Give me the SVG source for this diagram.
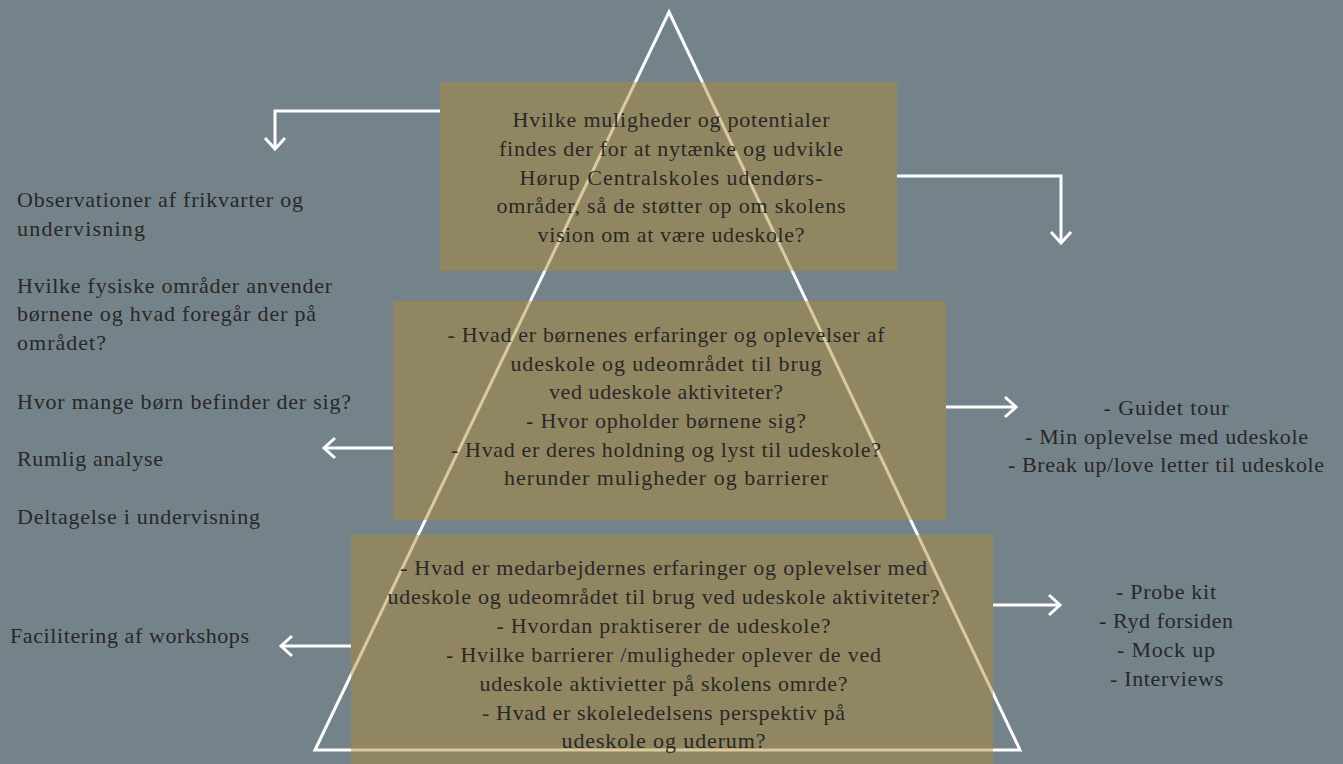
<svg xmlns="http://www.w3.org/2000/svg" width="1343" height="764" viewBox="0 0 1343 764">
<style>
.bg{fill:#74838a}
.box{fill:rgb(176,141,54);fill-opacity:0.47}
.tri{fill:none;stroke:#ffffff;stroke-width:3;stroke-linejoin:miter}
.conn{fill:none;stroke:#ffffff;stroke-width:3}
.t{font-family:"Liberation Serif","Times New Roman",serif;font-size:22px;fill:#2a2727}
.c{text-anchor:middle}
</style>
<defs>
<marker id="ah" viewBox="-15 -15 30 30" markerWidth="30" markerHeight="30" refX="0" refY="0" orient="auto" markerUnits="userSpaceOnUse" overflow="visible">
<path d="M-11,-10 L0,0 L-11,10" fill="none" stroke="#ffffff" stroke-width="3"/>
</marker>
</defs>
<rect class="bg" x="0" y="0" width="1343" height="764"/>
<g id="pyramid">
<polygon class="tri" points="669,12 1020,750 315,750"/>
</g>
<g id="connectors">
<polyline class="conn" points="440,111 275,111 275,149" marker-end="url(#ah)"/>
<polyline class="conn" points="897,176 1061,176 1061,243" marker-end="url(#ah)"/>
<line class="conn" x1="393" y1="448" x2="324" y2="448" marker-end="url(#ah)"/>
<line class="conn" x1="946" y1="407" x2="1016" y2="407" marker-end="url(#ah)"/>
<line class="conn" x1="351" y1="646" x2="281" y2="646" marker-end="url(#ah)"/>
<line class="conn" x1="993" y1="605" x2="1060" y2="605" marker-end="url(#ah)"/>
</g>
<g id="top-box">
<rect class="box" x="440" y="82" width="457" height="189"/>
<text class="t c" x="671" y="127" textLength="317">Hvilke muligheder og potentialer</text>
<text class="t c" x="671" y="155.8" textLength="344">findes der for at nytænke og udvikle</text>
<text class="t c" x="671" y="184.6" textLength="303">Hørup Centralskoles udendørs-</text>
<text class="t c" x="671" y="213.4" textLength="349">områder, så de støtter op om skolens</text>
<text class="t c" x="671" y="242.2" textLength="267">vision om at være udeskole?</text>
</g>
<g id="middle-box">
<rect class="box" x="393" y="301" width="553" height="219"/>
<text class="t c" x="666" y="342" textLength="437">- Hvad er børnenes erfaringer og oplevelser af</text>
<text class="t c" x="666" y="370.7" textLength="311">udeskole og udeområdet til brug</text>
<text class="t c" x="666" y="399.4" textLength="234">ved udeskole aktiviteter?</text>
<text class="t c" x="666" y="428" textLength="280">- Hvor opholder børnene sig?</text>
<text class="t c" x="666" y="456.7" textLength="430">- Hvad er deres holdning og lyst til udeskole?</text>
<text class="t c" x="666" y="485.4" textLength="324">herunder muligheder og barrierer</text>
</g>
<g id="bottom-box">
<rect class="box" x="351" y="535" width="642" height="229"/>
<text class="t c" x="663.5" y="575" textLength="527">- Hvad er medarbejdernes erfaringer og oplevelser med</text>
<text class="t c" x="663.5" y="604" textLength="552">udeskole og udeområdet til brug ved udeskole aktiviteter?</text>
<text class="t c" x="663.5" y="633" textLength="334">- Hvordan praktiserer de udeskole?</text>
<text class="t c" x="663.5" y="662" textLength="435">- Hvilke barrierer /muligheder oplever de ved</text>
<text class="t c" x="663.5" y="691" textLength="368">udeskole aktivietter på skolens omrde?</text>
<text class="t c" x="663.5" y="719.5" textLength="363">- Hvad er skoleledelsens perspektiv på</text>
<text class="t c" x="663.5" y="748.3" textLength="204">udeskole og uderum?</text>
</g>
<g id="left-observations">
<text class="t" x="17" y="206.5" textLength="286">Observationer af frikvarter og</text>
<text class="t" x="17" y="235.5" textLength="128">undervisning</text>
<text class="t" x="17" y="292.5" textLength="315">Hvilke fysiske områder anvender</text>
<text class="t" x="17" y="321" textLength="299">børnene og hvad foregår der på</text>
<text class="t" x="17" y="350" textLength="89">området?</text>
<text class="t" x="17" y="408.5" textLength="334">Hvor mange børn befinder der sig?</text>
<text class="t" x="17" y="465.5" textLength="146">Rumlig analyse</text>
<text class="t" x="17" y="523.5" textLength="243">Deltagelse i undervisning</text>
</g>
<g id="left-workshops">
<text class="t" x="10" y="642.5" textLength="239">Facilitering af workshops</text>
</g>
<g id="right-children-methods">
<text class="t c" x="1166" y="415" textLength="125">- Guidet tour</text>
<text class="t c" x="1166.5" y="443.5" textLength="283">- Min oplevelse med udeskole</text>
<text class="t c" x="1166" y="472" textLength="316">- Break up/love letter til udeskole</text>
</g>
<g id="right-staff-methods">
<text class="t c" x="1166" y="599" textLength="100">- Probe kit</text>
<text class="t c" x="1166" y="628" textLength="134">- Ryd forsiden</text>
<text class="t c" x="1166" y="657" textLength="98">- Mock up</text>
<text class="t c" x="1166.5" y="686" textLength="113">- Interviews</text>
</g>
</svg>
